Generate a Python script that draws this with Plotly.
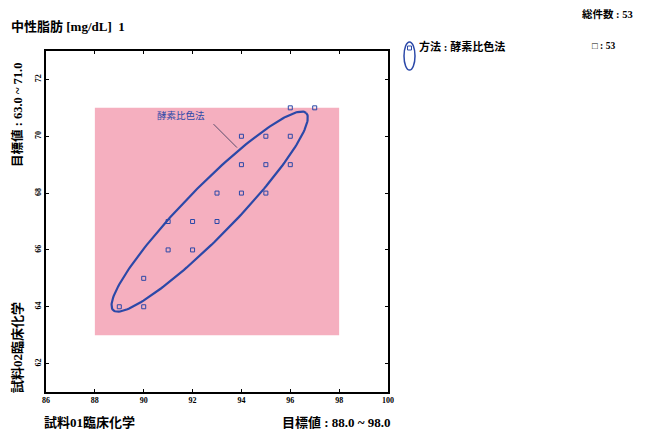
import numpy as np
import plotly.graph_objects as go

# Data points (試料01, 試料02)
x_vals = [96, 97, 94, 95, 96, 94, 95, 96, 93, 94, 95, 91, 92, 93, 91, 92, 90, 89, 90]
y_vals = [71, 71, 70, 70, 70, 69, 69, 69, 68, 68, 68, 67, 67, 67, 66, 66, 65, 64, 64]

x_ticks = [86, 88, 90, 92, 94, 96, 98, 100]
y_ticks = [62, 64, 66, 68, 70, 72]

target_x = [88.0, 98.0]
target_y = [63.0, 71.0]

# ellipse parameters (data units)
ell_center = (92.7, 67.35)
ell_major = (3.95, 3.47)
ell_minor = (0.73, -0.61)

method_name = "酵素比色法"
total_n = 53
method_n = 53

BLUE = "#2B48A8"
PINK = "#F5AFBF"
FONT = "Liberation Serif, Noto Sans CJK JP"

W, H = 646, 432
ML, MR, MT, MB = 46, 258, 51, 40
PW, PH = W - ML - MR, H - MT - MB


def px(x):
    return (x - ML) / PW


def py(y):
    return (H - MB - y) / PH


t = np.linspace(0, 2 * np.pi, 200)
ex = ell_center[0] + ell_major[0] * np.cos(t) + ell_minor[0] * np.sin(t)
ey = ell_center[1] + ell_major[1] * np.cos(t) + ell_minor[1] * np.sin(t)

fig = go.Figure()
fig.add_shape(type="rect", xref="x", yref="y", x0=target_x[0], x1=target_x[1],
              y0=target_y[0], y1=target_y[1], fillcolor=PINK, line=dict(width=0),
              layer="below")
fig.add_trace(go.Scatter(x=ex, y=ey, mode="lines", line=dict(color=BLUE, width=2.2),
                         hoverinfo="skip", showlegend=False))
fig.add_trace(go.Scatter(x=x_vals, y=y_vals, mode="markers",
                         marker=dict(symbol="square-open", size=4, color=BLUE,
                                     line=dict(width=1, color=BLUE)),
                         showlegend=False))

# leader annotation
fig.add_annotation(x=93.82, y=69.6, xref="x", yref="y", ax=-25, ay=-25,
                   text="", showarrow=True, arrowhead=0, arrowwidth=0.8,
                   arrowcolor="#333355")
fig.add_annotation(x=90.45, y=70.75, xref="x", yref="y", text=method_name,
                   showarrow=False, xanchor="left", yanchor="middle",
                   font=dict(family="Noto Sans CJK JP", size=9.5, color=BLUE))


def pa(x, y, text, size=10, xanchor="left", angle=0, color="black", yanchor="middle"):
    fig.add_annotation(x=px(x), y=py(y), xref="paper", yref="paper",
                       text=text, showarrow=False, xanchor=xanchor, yanchor=yanchor,
                       textangle=angle, font=dict(family=FONT, size=size, color=color))


pa(9, 26, "<b>中性脂肪 [mg/dL]  1</b>", size=13)
pa(635, 14, f"<b>総件数 : {total_n}</b>", size=10.5, xanchor="right")
pa(417, 46, f"<b>方法 : {method_name}</b>", size=11)
pa(590, 46, f"<b>□ : {method_n}</b>", size=9.5)
pa(17, 115, f"<b>目標値 : {target_y[0]:.1f} ~ {target_y[1]:.1f}</b>", size=12.5, angle=-90,
   xanchor="center")
pa(17, 348, "<b>試料02臨床化学</b>", size=13, angle=-90, xanchor="center")
pa(42, 422, "<b>試料01臨床化学</b>", size=13)
pa(393, 422, f"<b>目標値 : {target_x[0]:.1f} ~ {target_x[1]:.1f}</b>", size=13,
   xanchor="right")

# legend ellipse icon with marker
fig.add_shape(type="circle", xref="paper", yref="paper",
              x0=px(404), x1=px(415), y0=py(70), y1=py(42),
              line=dict(color=BLUE, width=1.5))
fig.add_shape(type="rect", xref="paper", yref="paper",
              x0=px(407.5), x1=px(411.5), y0=py(50), y1=py(46),
              line=dict(color=BLUE, width=1))

axis_common = dict(showgrid=False, zeroline=False, showline=True, linecolor="black",
                   linewidth=1.5, mirror="ticks", ticks="inside", ticklen=3,
                   tickcolor="black",
                   tickfont=dict(family=FONT, size=8, color="black", weight="bold"))
fig.update_xaxes(range=[86, 100], tickvals=x_ticks, **axis_common)
fig.update_yaxes(range=[61, 73], tickvals=y_ticks, tickangle=-90, **axis_common)
fig.update_layout(
    width=W, height=H, margin=dict(l=ML, r=MR, t=MT, b=MB),
    paper_bgcolor="white", plot_bgcolor="white", showlegend=False,
)
fig.write_html("out.html", config={"displayModeBar": False},
               post_script="document.body.style.margin='0';")
